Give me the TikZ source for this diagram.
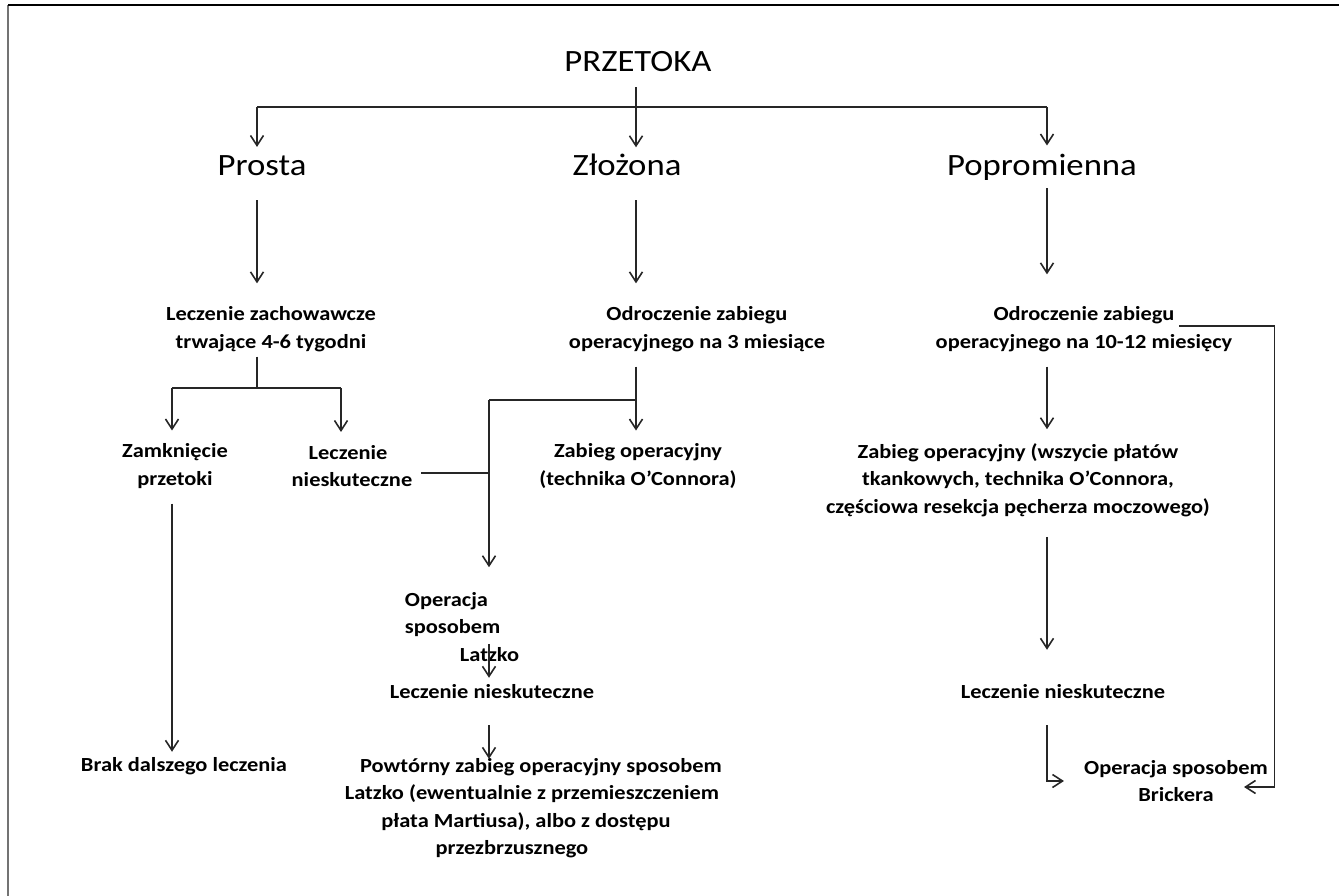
\documentclass[tikz,border=0pt]{standalone}
\usepackage{fontspec}
\setmainfont{Carlito}[FakeStretch=1.12]
\usetikzlibrary{arrows.meta,calc}
\begin{document}
\begin{tikzpicture}[x=1pt,y=-1pt,
 conn/.style={line width=1.6pt,draw=black!85},
 arr/.style={conn,-{Straight Barb[length=10pt,width=13pt]}},
 ttl/.style={font=\fontsize{31}{36}\selectfont,inner sep=0pt,anchor=base},
 txt/.style={font=\bfseries\fontsize{20}{27.5}\selectfont,inner sep=0pt,align=center},
]
\useasboundingbox (0,0) rectangle (1339,896);
% frame
\draw[line width=1.8pt, black!55] (8,896) -- (8,5);
\draw[line width=1.4pt] (8,5) -- (1339,5);

% nodes
\node[ttl] (tit) at (638,72) {PRZETOKA};
\node[ttl] (prosta) at (262,176) {Prosta};
\node[ttl] (zlozona) at (627,176) {Złożona};
\node[ttl] (popr) at (1042,176) {Popromienna};
\node[txt] (lz) at (271,329) {Leczenie zachowawcze\\trwające 4-6 tygodni};
\node[txt] (oz) at (697,329) {Odroczenie zabiegu\\operacyjnego na 3 miesiące};
\node[txt] (op) at (1084,329) {Odroczenie zabiegu\\operacyjnego na 10-12 miesięcy};
\node[txt] (zam) at (175,466) {Zamknięcie\\przetoki};
\node[txt] (ln1) at (352,466) {Leczenie\rule{8pt}{0pt}\\nieskuteczne};
\node[txt] (zo) at (638,466) {Zabieg operacyjny\\(technika O’Connora)};
\node[txt] (zw) at (1018,480) {Zabieg operacyjny (wszycie płatów\\tkankowych, technika O’Connora,\\częściowa resekcja pęcherza moczowego)};
\node[txt,align=left] (ops) at (462,627) {Operacja\\sposobem\\\rule{55pt}{0pt}Latzko};
\node[txt,anchor=base] (ln2) at (492,698) {Leczenie nieskuteczne};
\node[txt,anchor=base] (ln3) at (1063,698) {Leczenie nieskuteczne};
\node[txt,anchor=base] (brak) at (184,771) {Brak dalszego leczenia};
\node[txt] (pow) at (530,808) {\rule{22pt}{0pt}Powtórny zabieg operacyjny sposobem\\\rule{4pt}{0pt}Latzko (ewentualnie z przemieszczeniem\\płata Martiusa), albo z dostępu\rule{8pt}{0pt}\\przezbrzusznego\rule{36pt}{0pt}};
\node[txt] (bri) at (1176,781) {Operacja sposobem\\Brickera};

% junctions
\coordinate (j0) at (636,107);
\coordinate (jL) at (257,107);
\coordinate (jR) at (1047,107);
\coordinate (jS) at (257,388);
\coordinate (jSL) at (172,388);
\coordinate (jSR) at (341,388);
\coordinate (jM) at (636,400);
\coordinate (jML) at (489,400);
\coordinate (lnE) at ([yshift=-7pt]ln1.east);
\coordinate (opR) at ([xshift=-53pt,yshift=3pt]op.east);
\coordinate (briR) at ([xshift=-24pt,yshift=-6pt]bri.east);

% connectors
\draw[arr,shorten <=15pt,shorten >=7pt] (tit.south -| j0) -- (j0 |- zlozona.north);
\draw[conn] (jL) -- (jR);
\draw[arr,shorten >=9pt] (jL) -- (jL |- prosta.north);
\draw[arr,shorten >=9pt] (jR) -- (jR |- popr.north);
\draw[arr,shorten <=24pt,shorten >=23pt] (prosta.south -| jL) -- (lz.north -| jL);
\draw[arr,shorten <=24pt,shorten >=23pt] (zlozona.south -| j0) -- (oz.north -| j0);
\draw[arr,shorten <=7pt,shorten >=32pt] (popr.south -| jR) -- (op.north -| jR);
\draw[conn,shorten <=5pt] (lz.south -| jS) -- (jS);
\draw[conn] (jSL) -- (jSR);
\draw[arr,shorten >=13pt] (jSL) -- (jSL |- zam.north);
\draw[arr,shorten >=13pt] (jSR) -- (jSR |- ln1.north);
\draw[arr,shorten <=15pt,shorten >=13pt] (oz.south -| j0) -- (zo.north -| j0);
\draw[conn] (jM) -- (jML);
\draw[arr,shorten >=25pt] (jML) -- (jML |- ops.north);
\draw[conn,shorten <=9pt] (lnE) -- (lnE -| jML);
\draw[arr,shorten <=-18pt,shorten >=6pt] (ops.south -| jML) -- (jML |- ln2.north);
\draw[arr,shorten <=27pt,shorten >=-1pt] (ln2.south -| jML) -- (jML |- pow.north);
\draw[arr,shorten <=15pt,shorten >=5pt] (zam.south -| jSL) -- (jSL |- brak.north);
\draw[arr,shorten <=15pt,shorten >=14pt] (op.south -| jR) -- (jR |- zw.north);
\draw[arr,shorten <=20pt,shorten >=34pt] (zw.south -| jR) -- (jR |- ln3.north);
\draw[arr,shorten <=27pt,shorten >=20pt] (ln3.south -| jR) |- (bri.west);
\draw[arr] (opR) -- ++(95,0) |- (briR);
\end{tikzpicture}
\end{document}
